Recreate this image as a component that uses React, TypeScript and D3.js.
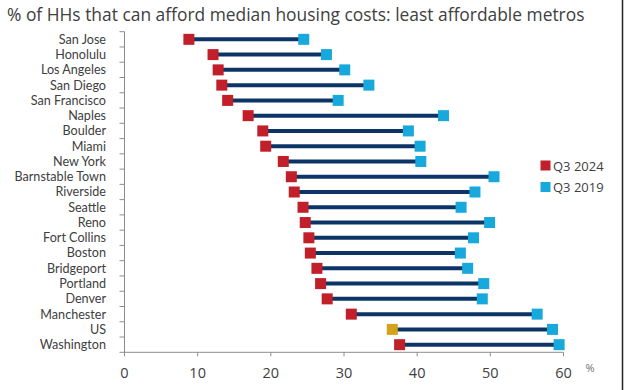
import * as d3 from 'd3'

const metros = [
  'San Jose', 'Honolulu', 'Los Angeles', 'San Diego', 'San Francisco', 'Naples',
  'Boulder', 'Miami', 'New York', 'Barnstable Town', 'Riverside', 'Seattle',
  'Reno', 'Fort Collins', 'Boston', 'Bridgeport', 'Portland', 'Denver',
  'Manchester', 'US', 'Washington',
]
const q3_2024 = [8.8, 12.1, 12.8, 13.3, 14.1, 16.9, 18.9, 19.3, 21.7, 22.8, 23.2, 24.4, 24.7, 25.2, 25.4, 26.3, 26.8, 27.7, 31.0, 36.6, 37.6]
const q3_2019 = [24.5, 27.6, 30.1, 33.4, 29.2, 43.6, 38.8, 40.4, 40.5, 50.5, 47.9, 46.0, 49.9, 47.7, 45.9, 46.9, 49.1, 48.9, 56.4, 58.5, 59.4]
const xTicks = [0, 10, 20, 30, 40, 50, 60]

const W = 624
const H = 390
const TXT = '#404040'
const AXIS = '#8c8c8c'
const RED = '#c11f2a'
const BLUE = '#17a9dc'
const GOLD = '#d4a21c'
const NAVY = '#0c3466'
const FONT = '"Open Sans", "Noto Sans", sans-serif'
const LABEL_FONT = 'Lato, "Open Sans", sans-serif'

export default function App() {
  const x = d3.scaleLinear().domain([0, 60]).range([124.5, 563.5])
  const y = d3.scaleBand<string>().domain(metros).range([31.7, 352.3]).padding(0)
  const bw = y.bandwidth()
  const ms = 11
  const rows = metros.map((m, i) => ({ m, a: q3_2024[i], b: q3_2019[i] }))
  const boundaries = metros.map(m => y(m) as number).concat([y.range()[1]])

  return (
    <svg width={W} height={H} style={{ position: 'absolute', left: 0, top: 0, background: '#fff' }} fontFamily={FONT}>
      <rect x={0} y={0} width={W} height={H} fill="#fff" />
      <text x={7} y={21} fontSize={17.4} fill={TXT}>
        % of HHs that can afford median housing costs: least affordable metros
      </text>

      {/* y axis */}
      <line x1={x(0)} x2={x(0)} y1={y.range()[0]} y2={y.range()[1]} stroke={AXIS} />
      {boundaries.map((b, i) => (
        <line key={i} x1={x(0) - 5} x2={x(0)} y1={b} y2={b} stroke={AXIS} />
      ))}
      {rows.map(r => (
        <text key={r.m} x={106} y={(y(r.m) as number) + bw / 2} dy="0.35em" textAnchor="end"
          fontSize={12.6} fontFamily={LABEL_FONT} fill={TXT}>
          {r.m}
        </text>
      ))}

      {/* x axis */}
      <line x1={x(0)} x2={x(60)} y1={y.range()[1]} y2={y.range()[1]} stroke={AXIS} />
      {xTicks.map(t => (
        <g key={t}>
          <line x1={x(t)} x2={x(t)} y1={y.range()[1]} y2={y.range()[1] + 4} stroke={AXIS} />
          <text x={x(t)} y={377.5} textAnchor="middle" fontSize={14.5} fill={TXT}>{t}</text>
        </g>
      ))}
      <text x={590} y={372} textAnchor="middle" fontSize={11} fill="#707070">%</text>

      {/* dumbbells */}
      {rows.map(r => {
        const cy = (y(r.m) as number) + bw / 2
        return (
          <g key={r.m}>
            <line x1={x(r.a)} x2={x(r.b)} y1={cy} y2={cy} stroke={NAVY} strokeWidth={4} />
            <rect x={x(r.b) - ms / 2} y={cy - ms / 2} width={ms} height={ms} fill={BLUE} />
            <rect x={x(r.a) - ms / 2} y={cy - ms / 2} width={ms} height={ms} fill={r.m === 'US' ? GOLD : RED} />
          </g>
        )
      })}

      {/* legend */}
      <rect x={540.5} y={160.5} width={10} height={10} fill={RED} />
      <text x={553} y={170.5} fontSize={13} fill={TXT}>Q3 2024</text>
      <rect x={540.5} y={182} width={10} height={10} fill={BLUE} />
      <text x={553} y={192} fontSize={13} fill={TXT}>Q3 2019</text>

      <line x1={622.5} x2={622.5} y1={0} y2={H} stroke="#222" strokeWidth={1.5} />
    </svg>
  )
}
